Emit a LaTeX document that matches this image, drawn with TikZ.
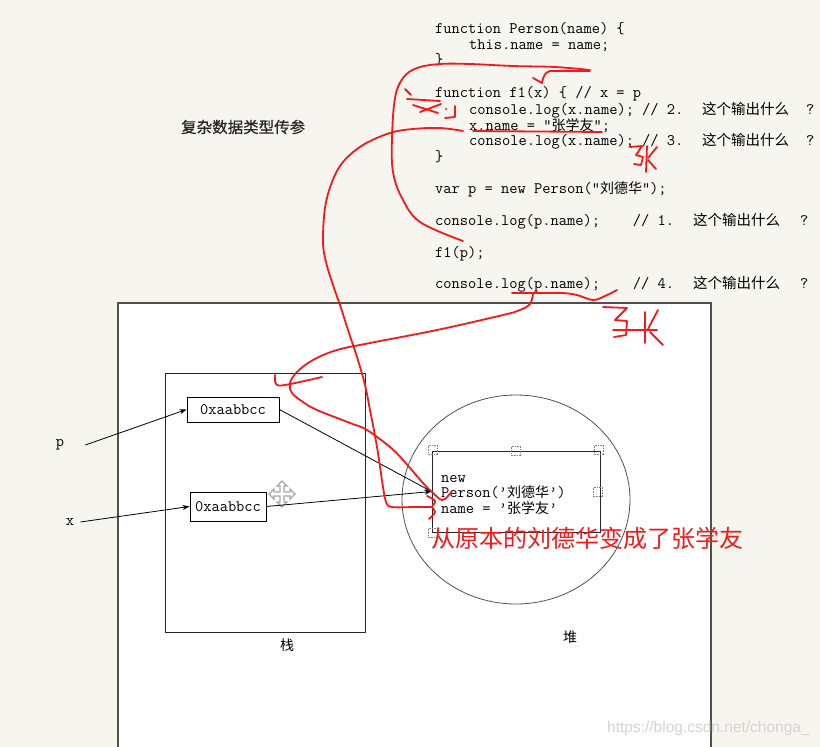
\documentclass[tikz,border=0pt]{standalone}
\usepackage{fontspec}
\newfontfamily\cjk{Noto Sans CJK SC}
\newfontfamily\cjkbold[FakeBold=0.6]{Noto Sans CJK SC}
\newfontfamily\wmfont{Liberation Sans}
\usetikzlibrary{arrows.meta}
\definecolor{bgcream}{RGB}{247,245,239}
\definecolor{ink}{RGB}{242,26,26}
\definecolor{frame}{RGB}{80,80,80}
\newcommand\zh[1]{{\cjk\fontsize{14}{16}\selectfont #1}}
\begin{document}
\begin{tikzpicture}[x=1pt,y=-1pt,
  code/.style={anchor=base west,inner sep=0pt,font=\ttfamily\fontsize{16}{19}\selectfont},
  zhc/.style={anchor=base west,inner sep=0pt,font=\cjk\fontsize{14.5}{16}\selectfont},
  addr/.style={draw=black,line width=0.9pt,fill=white,inner sep=0pt,font=\ttfamily\fontsize{16}{19}\selectfont},
  lbl/.style={inner sep=0pt,font=\ttfamily\fontsize{16}{19}\selectfont},
  zhlbl/.style={inner sep=0pt,font=\cjk\fontsize{14}{16}\selectfont},
  arr/.style={-{Stealth[length=7pt,width=5pt]},line width=0.8pt},
  redink/.style={draw=ink,line width=1.8pt,line cap=round,line join=round},
  handle/.style={draw=gray,densely dotted,line width=0.6pt},
]
\useasboundingbox (0,0) rectangle (820,747);
\fill[bgcream] (0,0) rectangle (820,747);

% big frame
\fill[white] (118,303) rectangle (711,747);
\draw[frame,line width=1.3pt] (118,747) -- (118,303) -- (711,303) -- (711,747);

% stack
\draw[black!85,line width=0.9pt] (165,373) rectangle (365,632);
% heap
\draw[frame,line width=0.8pt] (516,499.5) ellipse [x radius=114pt,y radius=104.5pt];

% object box
\node[draw=black!85,line width=0.9pt,minimum width=168pt,minimum height=81pt,inner sep=0pt] (obj) at (516,491.5) {};
\foreach \hx/\hy in {433/450,516/451,599/450,598/492,433/533}
  \draw[handle] (\hx-4.5,\hy-4.5) rectangle (\hx+4.5,\hy+4.5);
\node[code] (o1) at (441,482) {new};
\node[code] (o2) at (441,497) {Person(’\zh{刘德华}’)};
\node[code] (o3) at (441,513) {name~=~’\zh{张学友}’};

% address boxes
\node[addr,minimum width=92pt,minimum height=25pt] (b1) at (233,409.5) {0xaabbcc};
\node[addr,minimum width=76pt,minimum height=29pt] (b2) at (228,506.5) {0xaabbcc};

% variable labels
\node[lbl] (p) at (60,445) {p};
\node[lbl] (x) at (70,522) {x};

% move cursor
\begin{scope}[shift={(282,494)}]
\draw[gray!70,fill=white,line width=1.4pt,line join=miter]
 (0,-13) -- (5,-8) -- (2,-8) -- (2,-2) -- (8,-2) -- (8,-5) -- (13,0) -- (8,5) -- (8,2) -- (2,2) -- (2,8) -- (5,8) -- (0,13) -- (-5,8) -- (-2,8) -- (-2,2) -- (-8,2) -- (-8,5) -- (-13,0) -- (-8,-5) -- (-8,-2) -- (-2,-2) -- (-2,-8) -- (-5,-8) -- cycle;
\end{scope}

% connectors
\draw[arr] ([xshift=21pt]p.east) -- (b1.west);
\draw[arr] ([xshift=6pt]x.east) -- (b2.west);
\draw[arr] (b1.east) -- (obj.west);
\draw[arr] (b2.east) -- (obj.west);

% labels
\node[zhlbl] (zhan) at (287,645) {栈};
\node[zhlbl] (dui) at (570,637) {堆};
\node[anchor=west,inner sep=0pt,font=\cjkbold\fontsize{15.5}{18}\selectfont,text=black!85] (title) at (181,127) {复杂数据类型传参};

% code
\node[code] (c1) at (435,33) {function~Person(name)~\{};
\node[code] (c2) at (469,49) {this.name~=~name;};
\node[code] (c3) at (435,64) {\}};
\node[code] (c4) at (435,97) {function~f1(x)~\{~//~x~=~p};
\node[code] (c5) at (469,114) {console.log(x.name);~//~2.};
\node[zhc] (c5z) at (702,114) {这个输出什么};
\node[code] (c5q) at (806,114) {?};
\node[code] (c6) at (469,130) {x.name~=~“\zh{张学友}”;};
\node[code] (c7) at (469,145) {console.log(x.name);~//~3.};
\node[zhc] (c7z) at (702,145) {这个输出什么};
\node[code] (c7q) at (806,145) {?};
\node[code] (c8) at (435,161) {\}};
\node[code] (c9) at (435,193) {var~p~=~new~Person(“\zh{刘德华}”);};
\node[code] (c10) at (435,225) {console.log(p.name);~~~~//~1.};
\node[zhc] (c10z) at (693,225) {这个输出什么};
\node[code] (c10q) at (800,225) {?};
\node[code] (c11) at (435,257) {f1(p);};
\node[code] (c12) at (435,288) {console.log(p.name);~~~~//~4.};
\node[zhc] (c12z) at (693,288) {这个输出什么};
\node[code] (c12q) at (800,288) {?};

% red annotations
\draw[redink] plot[smooth,tension=0.6] coordinates {(590,70) (555,67) (513,66) (470,64) (440,64) (417,68) (403,78) (395,98) (392,138) (393,172) (402,198) (420,222) (463,241)};
\draw[redink] (590,71) -- (550,71) .. controls (545,72) and (543,77) .. (542,83);
\draw[redink] (533,78) -- (542,83);
% x annotation
\draw[redink] (405,89) -- (411,95);
\draw[redink] (407,99) -- (440,101);
\draw[redink] (413,105) -- (438,113);
\draw[redink] (420,112) -- (441,104);
\fill[ink] (446,109) circle (1.2pt);
\draw[redink] (455,106) -- (455,117) -- (445,118);
% underline x.name
\draw[redink] (473,131) -- (602,132);
% curve B
\draw[redink] plot[smooth,tension=0.6] coordinates {(463,131) (440,128) (413,129) (390,133) (363,145) (343,162) (332,182) (325,208) (323,242) (326,262) (333,285) (340,305) (348,330) (357,357) (365,385) (370,410) (377,447) (383,487) (386,502) (392,507) (415,507) (431,507)};
\draw[redink] plot[smooth,tension=0.7] coordinates {(427,496) (435,501) (432,507) (435,512) (429,519)};
% underline p.name
\draw[redink] plot[smooth,tension=0.6] coordinates {(512,293) (533,293) (550,293) (563,293) (577,295) (593,300) (605,296) (617,290)};
% curve C
\draw[redink] plot[smooth,tension=0.6] coordinates {(533,294) (530,304) (520,310) (503,315) (437,330) (370,343) (337,350) (313,360) (297,372) (290,383) (292,393) (303,402) (317,410) (350,423) (367,430) (390,447) (403,460) (423,483) (433,493) (442,500) (448,496) (452,491)};
\draw[redink] plot[smooth,tension=0.6] coordinates {(275,375) (276,384) (285,385) (322,377)};
% upper zhang
\draw[redink] (630,147) -- (642,146) -- (636,155) -- (643,157) -- (641,165) -- (634,164);
\draw[redink] (647,146) -- (646,172);
\draw[redink] (648,158) -- (657,147);
\draw[redink] (648,160) -- (656,169);
% lower zhang
\draw[redink] (603,307) -- (627,308) -- (615,320) -- (627,321) -- (626,335) -- (614,337);
\draw[redink] (645,312) -- (645,343);
\draw[redink] (613,330) -- (657,330);
\draw[redink] (648,329) -- (658,310);
\draw[redink] (650,332) -- (663,345);

\node[anchor=west,inner sep=0pt,text=ink,font=\cjk\fontsize{24}{26}\selectfont] (note) at (431,538) {从原本的刘德华变成了张学友};

% watermark
\node[anchor=west,inner sep=0pt,font=\wmfont\fontsize{15.5}{18}\selectfont,text=black!17] (wm) at (607,728) {https://blog.csdn.net/chonga\_};
\end{tikzpicture}
\end{document}
